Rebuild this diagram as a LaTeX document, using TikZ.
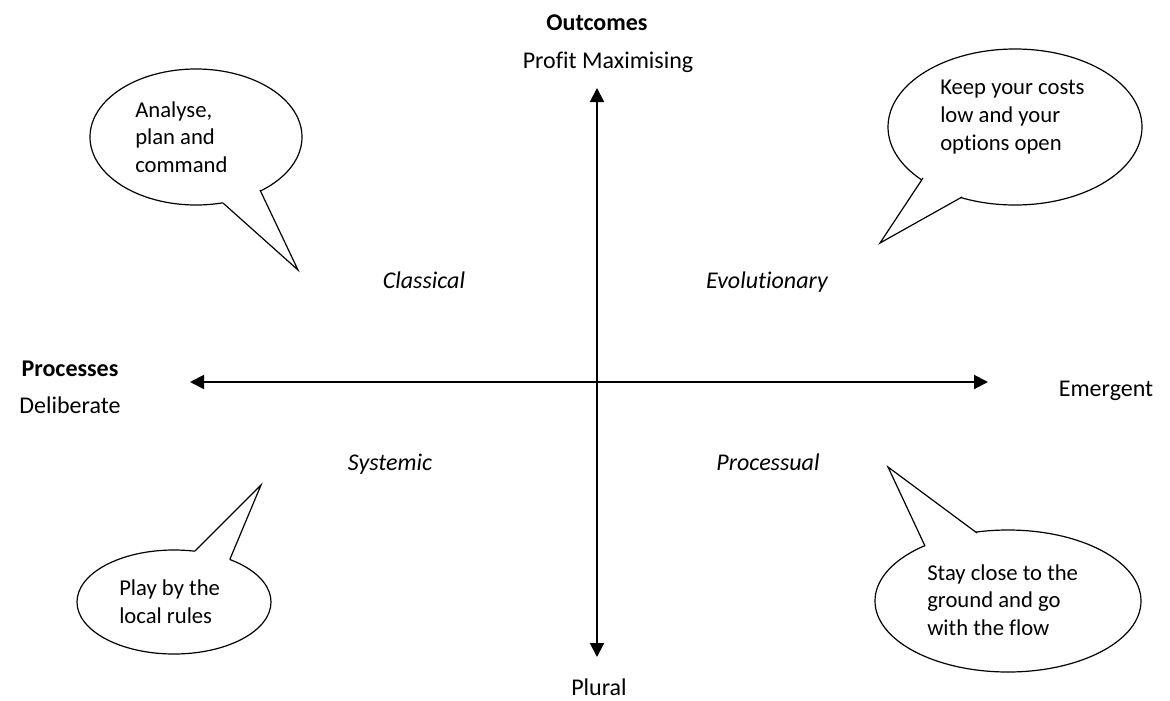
\documentclass[tikz,border=0pt]{standalone}
\usepackage{fontspec}
\setmainfont{Carlito}[Ligatures=NoCommon]
\usetikzlibrary{arrows.meta}
\begin{document}
\begin{tikzpicture}[x=0.75pt,y=-0.75pt,
  axis/.style={line width=1.5pt,{Triangle[length=10.5pt,width=10.5pt]}-{Triangle[length=10.5pt,width=10.5pt]}},
  lbl/.style={font=\fontsize{18}{22}\selectfont, inner sep=0},
  bold/.style={lbl, font=\fontsize{18}{22}\selectfont\bfseries},
  quad/.style={lbl, font=\fontsize{18}{22}\selectfont\itshape},
  bubble/.style={draw=black, line width=0.9pt, line join=miter},
  btext/.style={font=\fontsize{17}{20.8}\selectfont, align=left, inner sep=0, anchor=west}]
\useasboundingbox (0,0) rectangle (1170,700);
\fill[white] (0,0) rectangle (1170,700);

% axes
\coordinate (N) at (597,88);
\coordinate (S) at (597,657);
\coordinate (W) at (190,382);
\coordinate (E) at (988,382);
\draw[axis] (S) -- (N);
\draw[axis] (W) -- (E);

% axis labels
\node[bold, anchor=base] (outcomes) at (597,30) {Outcomes};
\node[lbl, anchor=base] (profit) at (608,68) {Profit Maximising};
\node[bold, anchor=base] (processes) at (70,376) {Processes};
\node[lbl, anchor=base] (deliberate) at (70,413) {Deliberate};
\node[lbl, anchor=base] (emergent) at (1106,396) {Emergent};
\node[lbl, anchor=base] (plural) at (599,695) {Plural};

% quadrant labels
\node[quad, anchor=base] (classical) at (424,288) {Classical};
\node[quad, anchor=base] (evolutionary) at (767,288) {Evolutionary};
\node[quad, anchor=base] (systemic) at (390,470) {Systemic};
\node[quad, anchor=base] (processual) at (768,470) {Processual};

% callout 1 (top left)
\draw[bubble, fill=white] (196,137) ellipse [x radius=106, y radius=68];
\fill[white] (223,203) -- (298,270) -- (260,190) -- (196,137) -- cycle;
\draw[bubble] (223,203) -- (298,270) -- (260,190);
\node[btext] (c1) at (135,137) {Analyse,\\plan and\\command};

% callout 2 (top right)
\draw[bubble, fill=white] (1015,127) ellipse [x radius=127, y radius=78];
\fill[white] (923,178) -- (880,243) -- (962,197) -- (1015,127) -- cycle;
\draw[bubble] (923,178) -- (880,243) -- (962,197);
\node[btext] (c2) at (940,117) {Keep your costs\\low and your\\options open};

% callout 3 (bottom left)
\draw[bubble, fill=white] (174,602) ellipse [x radius=97, y radius=52];
\fill[white] (195,551) -- (261,485) -- (230,559) -- (174,602) -- cycle;
\draw[bubble] (195,551) -- (261,485) -- (230,559);
\node[btext] (c3) at (119,602) {Play by the\\local rules};

% callout 4 (bottom right)
\draw[bubble, fill=white] (1008,601) ellipse [x radius=133, y radius=71];
\fill[white] (925,546) -- (888,467) -- (977,533) -- (1008,601) -- cycle;
\draw[bubble] (925,546) -- (888,467) -- (977,533);
\node[btext] (c4) at (927,600) {Stay close to the\\ground and go\\with the flow};
\end{tikzpicture}
\end{document}
